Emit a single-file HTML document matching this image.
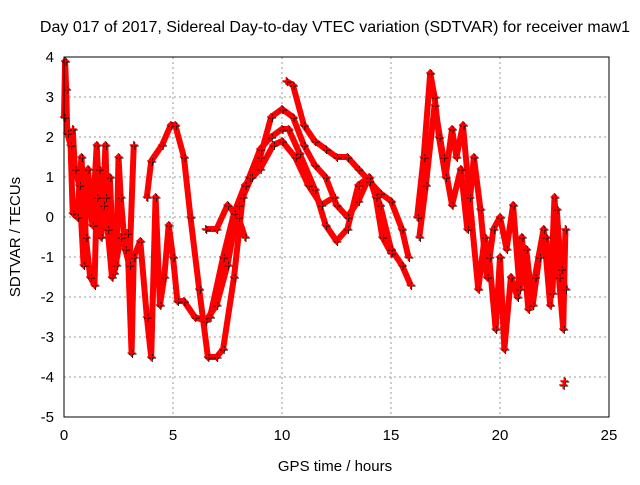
<!DOCTYPE html>
<html><head><meta charset="utf-8"><style>
body{margin:0;background:#fff;}
svg text{font-family:"Liberation Sans",sans-serif;fill:#000;}
</style></head><body>
<svg id="c" width="640" height="480" xmlns="http://www.w3.org/2000/svg">
<rect width="640" height="480" fill="#fff"/>
<text x="335" y="32" font-size="16" text-anchor="middle">Day 017 of 2017, Sidereal Day-to-day VTEC variation (SDTVAR) for receiver maw1</text>
<text x="335" y="471" font-size="15" text-anchor="middle">GPS time / hours</text>
<text transform="translate(20,237) rotate(-90)" font-size="15" text-anchor="middle">SDTVAR / TECUs</text>
<g id="grid"></g><g id="ticks"></g><g id="data"></g>
<rect x="64" y="57" width="545" height="360" fill="none" stroke="#000" stroke-width="1"/>
</svg>
<script>
const xTicks=[0,5,10,15,20,25];
const yTicks=[-5,-4,-3,-2,-1,0,1,2,3,4];
const trackA=[[0,2.5],[0.05,3.9],[0.1,3.2],[0.15,2.1],[0.3,1.8],[0.4,0.1],[0.6,0],[0.8,1.5],[1,-0.5],[1.2,-1.5],[1.4,-1.7],[1.5,0.5],[1.6,1.2],[1.8,0.3],[1.9,1.8],[2,-0.3],[2.2,-1.5],[2.4,-1.2],[2.5,1.5],[2.6,0.5],[2.8,-0.8],[3.0,-1.2],[3.2,1.8]];
const trackB=[[0.4,2.2],[0.5,1.2],[0.7,0.8],[0.9,-1.2],[1.1,1.2],[1.3,-0.2],[1.5,1.8],[1.7,-0.5],[1.9,0.5],[2.1,1.0],[2.3,-1.4],[2.6,-0.5],[2.9,-0.4],[3.1,-3.4],[3.2,-1],[3.5,-0.6],[3.8,-2.5],[4.0,-3.5],[4.2,0.5],[4.4,-2.2],[4.6,-1.5],[4.8,-0.2],[5,-1],[5.2,-2.1],[5.5,-2.1],[6,-2.5],[6.5,-2.6],[7,-2.2],[7.5,-1.2],[8,0.3],[8.5,1],[9,1.7],[9.5,2],[10,2.2],[10.3,2.2],[10.8,1.6],[11.5,0.7],[12,-0.2],[12.5,-0.6],[13,-0.3],[13.5,0.8],[14,1],[14.5,0.3],[15,-0.8],[15.5,-1.2],[15.9,-1.7]];
const trackC=[[3.8,0.5],[4,1.4],[4.5,1.8],[4.9,2.3],[5.1,2.3],[5.5,1.5],[5.8,0],[6.2,-1.8],[6.6,-3.5],[7,-3.5],[7.3,-3.3],[7.8,-1.5],[8.2,0.5],[8.6,1.0],[9,1.5],[9.5,2.5],[10,2.7],[10.5,2.5],[11,1.8],[11.5,1.3],[12,1.0],[12.5,0.3],[13,0],[13.5,0.4],[14,1],[14.3,0.5],[14.6,-0.5],[15,-0.9]];
const trackD=[[10.2,3.4],[10.5,3.3],[11,2.3],[11.5,1.9],[12,1.7],[12.5,1.5],[13,1.5],[13.5,1.2],[14,0.9],[14.5,0.6],[15,0.4],[15.5,-0.3],[15.8,-1]];
const trackE=[[6.5,-0.3],[7,-0.3],[7.5,0.3],[8,0],[8.3,-0.5]];
const trackE2=[[6.7,-2.5],[7.3,-1],[7.8,0.1],[8.3,0.8],[9,1.2],[9.6,1.8],[10,1.9],[10.6,1.5],[11.2,0.8],[11.8,0.3],[12.4,0.5]];
const trackF=[[16.2,0],[16.5,1.5],[16.8,3.6],[17,3],[17.2,2],[17.5,1],[17.8,2.2],[18,1.5],[18.3,2.3],[18.6,0.5],[19,-1.8],[19.3,-0.5],[19.5,-1],[19.8,-2.8],[20,-1],[20.2,-3.3],[20.5,-1.5],[20.8,-2],[21,-0.5],[21.3,-2.3],[21.6,-1.5],[22,-0.3],[22.3,-2.2],[22.5,0.5],[22.7,-1.5],[22.9,-2.8],[23,-0.3]];
const trackG=[[16.3,-0.5],[16.6,0.8],[17,2.8],[17.4,1.5],[17.8,0.3],[18.2,1.2],[18.5,-0.3],[18.8,1.5],[19.1,0.2],[19.4,-1.5],[19.7,-0.3],[20,0],[20.3,-0.8],[20.6,0.3],[20.9,-1.8],[21.2,-0.8],[21.5,-2.2],[21.8,-1],[22.1,-0.5],[22.4,-1.9],[22.6,0.2],[22.8,-1.3],[23,-1.8]];
const isolated=[[22.9,-4.2],[22.95,-4.1]];
const tracks=[trackA,trackB,trackC,trackD,trackE,trackE2,trackF,trackG];
const NS="http://www.w3.org/2000/svg";
const X=v=>64+v*545/25, Y=v=>57+(4-v)*40;
const grid=document.getElementById('grid'),ticks=document.getElementById('ticks'),data=document.getElementById('data');
function mk(t,a,p){const e=document.createElementNS(NS,t);for(const k in a)e.setAttribute(k,a[k]);p.appendChild(e);return e;}
xTicks.forEach(t=>{
 if(t>0&&t<25){const g=mk('line',{x1:X(t),x2:X(t),y1:57,y2:417,stroke:'#999','stroke-dasharray':'2,3'},grid);
 
 }
 const l=mk('text',{x:X(t),y:440,'font-size':15,'text-anchor':'middle'},ticks);l.textContent=t;
 
 
});
yTicks.forEach(t=>{
 if(t>-5&&t<4){const g=mk('line',{x1:64,x2:609,y1:Y(t),y2:Y(t),stroke:'#999','stroke-dasharray':'2,3'},grid);
 
 }
 const l=mk('text',{x:54,y:Y(t)+5,'font-size':15,'text-anchor':'end'},ticks);l.textContent=t;
 
 
});
function plus(x,y){return `M${x-4},${y}h8M${x},${y-4}v8`;}
tracks.forEach((tr,i)=>{
 const pl=mk('polyline',{points:tr.map(p=>X(p[0])+','+Y(p[1])).join(' '),fill:'none',stroke:'#f00','stroke-width':6,'stroke-linejoin':'round'},data);
 
 
});
const all=tracks.flat().concat(isolated);
let dk='',dr='';
all.forEach(p=>{const x=X(p[0]),y=Y(p[1]);dk+=plus(x+1,y+1);dr+=plus(x,y);});
const pk=mk('path',{d:dk,stroke:'#000','stroke-width':1},data);


const pr=mk('path',{d:dr,stroke:'#f00','stroke-width':1.5},data);


</script>
</body></html>
